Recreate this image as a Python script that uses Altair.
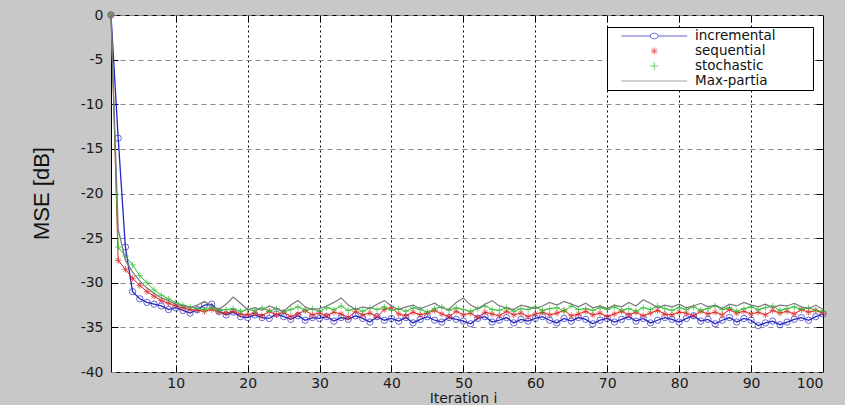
import altair as alt
import pandas as pd

iterations = list(range(1, 101))

incremental = [
    0.0, -13.8, -26.0, -31.0, -31.8, -32.2, -32.4, -32.6, -33.0, -32.8,
    -33.1, -33.4, -33.0, -32.5, -32.4, -33.2, -33.6, -33.3, -33.8, -33.9,
    -33.6, -33.9, -34.0, -33.5, -33.8, -34.1, -33.7, -34.2, -33.9, -34.0,
    -33.8, -34.3, -33.9, -34.1, -33.7, -34.0, -34.4, -33.8, -34.2, -34.0,
    -34.3, -33.9, -34.5, -34.1, -33.8, -34.2, -34.4, -33.9, -34.1, -34.3,
    -34.6, -34.0, -33.8, -34.4, -34.2, -33.9, -34.5, -34.1, -34.3, -34.0,
    -33.8, -34.2, -34.5, -34.0, -34.3, -33.9, -34.1, -34.6, -34.2, -34.0,
    -34.4, -34.1, -33.8, -34.3, -34.0, -34.5, -34.2, -33.9, -34.1, -34.4,
    -34.0, -33.7, -34.3, -34.1, -34.6, -34.2, -33.9, -34.4, -34.0, -34.2,
    -34.8, -34.5, -34.3, -34.7, -34.4, -34.1, -33.9, -34.2, -33.8, -33.5,
]

sequential = [
    0.0, -27.5, -28.5, -29.5, -30.3, -31.0, -31.5, -32.0, -32.3, -32.6,
    -32.8, -33.0, -33.1, -33.2, -33.0, -33.3, -33.4, -33.2, -33.5, -33.6,
    -33.4, -33.7, -33.2, -33.6, -33.3, -33.8, -33.5, -33.1, -33.6, -33.4,
    -33.7, -33.3, -33.5, -33.9, -33.2, -33.6, -33.4, -33.8, -33.0, -32.8,
    -33.5, -33.7, -33.3, -33.6, -33.4, -33.1, -33.5, -33.8, -33.2, -33.6,
    -33.4, -33.9, -33.3, -33.5, -33.7, -33.2, -33.6, -33.4, -33.8, -33.5,
    -33.3, -33.6, -33.4, -33.1, -33.7, -33.5, -33.2, -33.6, -33.4, -33.8,
    -33.5, -33.2, -33.6, -33.3, -33.7, -33.4, -33.1, -33.5, -33.6, -33.3,
    -33.4, -33.7, -33.2, -33.5, -33.3, -33.6, -33.0, -33.4, -33.2, -33.5,
    -33.3, -33.6, -33.1, -33.4, -33.2, -33.5, -33.0, -33.3, -33.1, -33.4,
]

stochastic = [
    0.0, -26.0, -27.0, -28.0, -29.2, -30.0, -30.8, -31.4, -31.8, -32.2,
    -32.5, -32.7, -32.9, -33.0, -32.8, -33.1, -33.0, -32.9, -33.2, -33.0,
    -33.1, -32.8, -33.2, -32.9, -33.3, -33.0, -32.7, -33.1, -32.9, -33.2,
    -32.8, -33.0, -32.6, -33.1, -32.9, -33.2, -32.8, -33.0, -32.7, -33.1,
    -32.9, -33.2, -32.8, -33.0, -33.3, -32.9, -32.7, -33.1, -32.8, -33.0,
    -33.2, -32.9, -32.6, -33.0, -33.1, -32.8, -33.2, -32.9, -33.0, -32.7,
    -33.1, -32.9, -32.8, -33.2, -32.6, -33.0, -32.9, -33.1, -32.8, -33.0,
    -32.7, -33.1, -32.9, -33.2, -32.8, -33.0, -32.6, -32.9, -33.1, -32.8,
    -33.0, -32.7, -33.1, -32.9, -32.6, -33.0, -32.8, -33.2, -32.9, -32.7,
    -33.0, -32.8, -32.6, -33.1, -32.9, -32.7, -33.0, -32.8, -33.1, -33.2,
]

max_partial = [
    0.0, -24.0, -27.5, -28.8, -29.8, -30.6, -31.2, -31.7, -32.0, -32.4,
    -32.6, -32.8, -32.5, -32.1, -32.6, -33.0, -32.4, -31.6, -32.3, -33.0,
    -32.8, -33.1, -32.6, -32.9, -33.2, -32.5, -32.0, -32.7, -33.0, -32.9,
    -32.6, -32.2, -31.7, -32.5, -33.0, -32.7, -32.9, -32.4, -32.0, -32.6,
    -33.0, -32.7, -32.5, -32.9, -32.6, -32.3, -32.8, -33.0, -32.2, -31.7,
    -32.5, -32.9, -32.4, -32.0, -32.6, -32.8, -33.0, -32.5, -32.7, -32.9,
    -32.6, -32.2, -32.5, -32.1, -32.4, -32.7, -32.3, -32.8, -32.6, -32.9,
    -32.5, -32.7, -32.2, -32.6, -31.9, -32.3, -32.8, -32.5, -32.7, -32.4,
    -32.8, -32.6, -32.3, -32.7, -32.5, -32.9, -32.4, -32.6, -32.2, -32.5,
    -32.7, -32.4, -32.8, -32.5, -32.6, -32.3, -32.7, -32.9, -32.5, -33.0,
]

series_names = ["incremental", "sequential", "stochastic", "Max-partia"]
series_colors = ["#2525c0", "#e02424", "#2cbf2c", "#7a7a7a"]
x_ticks = [10, 20, 30, 40, 50, 60, 70, 80, 90, 100]
y_ticks = [-40, -35, -30, -25, -20, -15, -10, -5, 0]

ASTERISK = "M-1,0L1,0M0,-1L0,1M-0.7,-0.7L0.7,0.7M-0.7,0.7L0.7,-0.7"
PLUS = "M-1,0L1,0M0,-1L0,1"
legend_paths = [
    "M-6.6,0L-0.8,0M0.8,0L6.6,0M-0.8,0A0.8,0.55,0,1,0,0.8,0A0.8,0.55,0,1,0,-0.8,0",
    "M-0.7,0L0.7,0M0,-0.7L0,0.7M-0.5,-0.5L0.5,0.5M-0.5,0.5L0.5,-0.5",
    "M-0.8,0L0.8,0M0,-0.8L0,0.8",
    "M-6.6,0L6.6,0",
]

all_values = [incremental, sequential, stochastic, max_partial]
df = pd.DataFrame({
    "x": iterations * 4,
    "y": [v for s in all_values for v in s],
    "series": [n for n in series_names for _ in iterations],
})

W, H = 712, 357

x_axis = alt.Axis(
    values=x_ticks, grid=True, gridColor="#000000", gridDash=[2, 3], gridOpacity=1,
    domain=False, ticks=False, labelExpr="'' + datum.value",
    labelFont="DejaVu Sans", labelFontSize=14, labelColor="#1a1a1a", labelPadding=4,
    title="Iteration i", titleFont="DejaVu Sans", titleFontSize=14,
    titleFontWeight="normal", titleColor="#1a1a1a", titleX=352, titleY=26,
    titleBaseline="middle",
)
y_axis = alt.Axis(
    values=y_ticks, grid=True, gridColor="#8a8a8a", gridDash=[5, 4], gridOpacity=1,
    domain=False, ticks=False, labelExpr="'' + datum.value",
    labelFont="DejaVu Sans", labelFontSize=14, labelColor="#1a1a1a", labelPadding=8,
    title="MSE [dB]", titleFont="Liberation Sans", titleFontSize=22,
    titleFontWeight="normal", titleColor="#111111", titleX=-70, titleY=178,
    titleAngle=270, titleAlign="center", titleBaseline="middle",
)


def tick_axis(orient, values, offset):
    return alt.Axis(orient=orient, offset=offset, values=values, labels=False,
                    grid=False, domain=False, ticks=True, tickSize=7,
                    tickColor="#000000", tickWidth=1, title=None)


x_scale = alt.Scale(domain=[1, 100], nice=False, zero=False)
y_scale = alt.Scale(domain=[-40, 0], nice=False)


def enc(chart, xa=None, ya=None):
    return chart.encode(x=alt.X("x:Q", scale=x_scale, axis=xa),
                        y=alt.Y("y:Q", scale=y_scale, axis=ya))


src = alt.Chart(df)


def series(name):
    return src.transform_filter(alt.datum.series == name)


empty = src.transform_filter("datum.x < 0")

layers = [
    enc(series("incremental").mark_line(color=series_colors[0], strokeWidth=1.3), x_axis, y_axis),
    enc(series("incremental").mark_point(shape="circle", size=40, filled=False,
                                          color=series_colors[0], strokeWidth=1)),
    enc(series("sequential").mark_line(color=series_colors[1], strokeWidth=1)),
    enc(series("sequential").mark_point(shape=ASTERISK, size=40, filled=False,
                                         color=series_colors[1], strokeWidth=1)),
    enc(series("stochastic").mark_line(color=series_colors[2], strokeWidth=1)),
    enc(series("stochastic").mark_point(shape=PLUS, size=40, filled=False,
                                         color=series_colors[2], strokeWidth=1)),
    enc(series("Max-partia").mark_line(color=series_colors[3], strokeWidth=1.2)),
    # inward tick marks on all four sides (MATLAB box style)
    enc(empty.mark_point(opacity=0),
        tick_axis("top", x_ticks[:-1], -H), tick_axis("right", y_ticks[1:-1], -W)),
    enc(empty.mark_point(opacity=0),
        tick_axis("bottom", x_ticks[:-1], -H), tick_axis("left", y_ticks[1:-1], -W)),
]

# a blank title on the right only widens the legend box to the reference's size
legend_cfg = dict(
    title=" ", titleOrient="right", titlePadding=36, titleFontSize=10,
    orient="none", legendX=496, legendY=12, padding=1.5,
    symbolSize=100, symbolOffset=39, labelOffset=34, symbolStrokeWidth=1,
    labelFont="DejaVu Sans", labelFontSize=13.5, labelColor="#111111",
    strokeColor="#000000", fillColor="#ffffff", rowPadding=0, clipHeight=15,
)

legend_layer = enc(empty.mark_point(filled=False, strokeWidth=1)).encode(
    color=alt.Color("series:N", scale=alt.Scale(domain=series_names, range=series_colors),
                    legend=alt.Legend(**legend_cfg)),
    shape=alt.Shape("series:N", scale=alt.Scale(domain=series_names, range=legend_paths),
                    legend=alt.Legend(**legend_cfg)),
)

chart = alt.layer(*layers, legend_layer).resolve_axis(
    x="independent", y="independent"
).properties(
    width=W, height=H,
    autosize=alt.AutoSizeParams(type="none"),
    padding={"left": 111, "top": 15, "right": 22, "bottom": 33},
    background="#c8c8c8",
).configure_view(stroke="#000000", strokeWidth=1, fill="#ffffff")

chart.save("out.html", embed_options={"renderer": "svg", "actions": False})
